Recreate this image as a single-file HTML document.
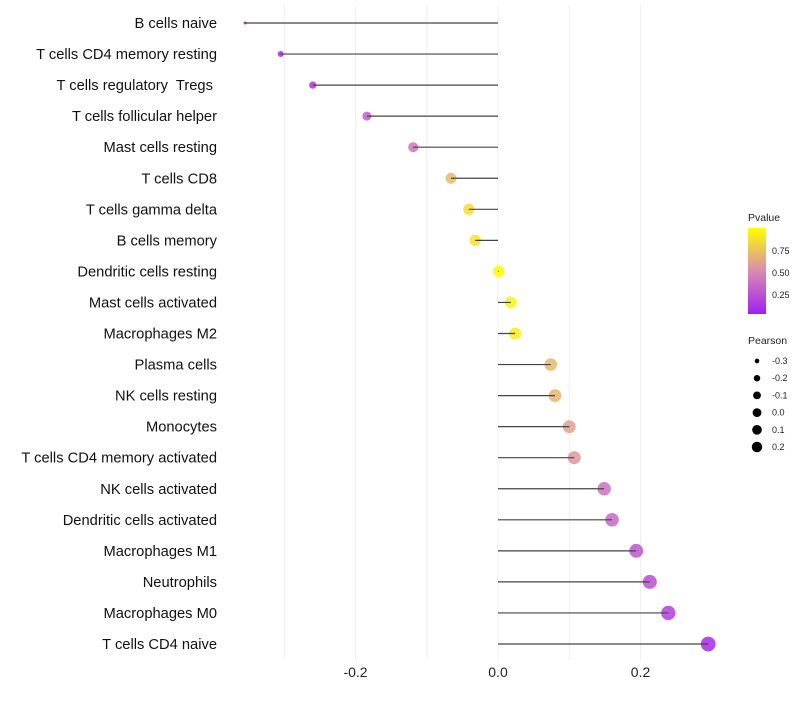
<!DOCTYPE html>
<html><head><meta charset="utf-8"><style>
body{margin:0;background:#fff;font-family:"Liberation Sans",sans-serif}
text{white-space:pre}
</style></head><body>
<svg id="chart" width="800" height="700" xmlns="http://www.w3.org/2000/svg">
<defs><linearGradient id="pg" x1="0" y1="1" x2="0" y2="0">
<stop offset="0" stop-color="#a020f0"/><stop offset="0.5" stop-color="#d98bb0"/><stop offset="1" stop-color="#ffff00"/>
</linearGradient></defs>
<g id="grid"></g>
<g id="marks"></g>
<g id="labels"></g>
<g font-size="9" fill="#222">
<text x="748" y="221" font-size="10.5">Pvalue</text>
<rect x="748" y="228" width="18" height="86" fill="url(#pg)"/>
<text x="772" y="254">0.75</text><text x="772" y="276">0.50</text><text x="772" y="298">0.25</text>
</g>
<g id="slegend" font-size="9" fill="#222">
<text x="748" y="344" font-size="10.5">Pearson</text>
</g>
</svg>
<script>
const categories=["B cells naive","T cells CD4 memory resting","T cells regulatory  Tregs ","T cells follicular helper","Mast cells resting","T cells CD8","T cells gamma delta","B cells memory","Dendritic cells resting","Mast cells activated","Macrophages M2","Plasma cells","NK cells resting","Monocytes","T cells CD4 memory activated","NK cells activated","Dendritic cells activated","Macrophages M1","Neutrophils","Macrophages M0","T cells CD4 naive"];
const pearson=[-0.355,-0.305,-0.26,-0.184,-0.119,-0.066,-0.041,-0.032,0.001,0.018,0.024,0.074,0.080,0.100,0.107,0.149,0.160,0.194,0.213,0.239,0.295];
const pvalue=[0.02,0.05,0.1,0.3,0.4,0.7,0.85,0.88,0.99,0.95,0.92,0.7,0.68,0.6,0.55,0.38,0.33,0.25,0.22,0.15,0.05];
const xTicks=[-0.2,0.0,0.2];
const xTickLabels=["-0.2","0.0","0.2"];
const minorTicks=[-0.3,-0.1,0.1];
const sizeLegend=[-0.3,-0.2,-0.1,0.0,0.1,0.2];
const sizeLegendLabels=["-0.3","-0.2","-0.1","0.0","0.1","0.2"];
const NS="http://www.w3.org/2000/svg";
const x=v=>498+v*712.5;
const y=i=>23+i*31.05;
const r=v=>Math.sqrt(2.25+74*Math.pow(Math.max(0,v+0.355),0.8));
function lerp(a,b,t){return Math.round(a+(b-a)*t);}
function col(p){const s=[[160,32,240],[217,139,176],[255,255,0]];let a,b,t;if(p<0.5){a=s[0];b=s[1];t=p/0.5}else{a=s[1];b=s[2];t=(p-0.5)/0.5}
return `rgb(${lerp(a[0],b[0],t)},${lerp(a[1],b[1],t)},${lerp(a[2],b[2],t)})`;}
function mk(tag,attrs,parent){const e=document.createElementNS(NS,tag);for(const k in attrs)e.setAttribute(k,attrs[k]);parent.appendChild(e);return e;}
const grid=document.getElementById('grid'),marks=document.getElementById('marks'),labels=document.getElementById('labels'),sl=document.getElementById('slegend');
xTicks.concat(minorTicks).forEach(v=>{const l=mk('line',{x1:x(v),x2:x(v),y1:5,y2:660,stroke:'#f0f0f0','stroke-width':1},grid);

});
xTicks.forEach((v,i)=>{const t=mk('text',{x:x(v),y:677,'text-anchor':'middle','font-size':14,fill:'#222'},labels);t.textContent=xTickLabels[i];

});
categories.forEach((c,i)=>{
const t=mk('text',{x:217,y:y(i)+5,'text-anchor':'end','font-size':14.7,fill:'#111'},labels);t.textContent=c;


const ci=mk('circle',{cx:x(pearson[i]),cy:y(i),r:r(pearson[i]),fill:col(pvalue[i]),'fill-opacity':0.85},marks);


const l=mk('line',{x1:x(0),x2:x(pearson[i]),y1:y(i),y2:y(i),stroke:'#444','stroke-width':1.2},marks);


});
sizeLegend.forEach((v,i)=>{const cy=361+i*17.2;
const c=mk('circle',{cx:757,cy:cy,r:r(v)*0.75,fill:'#000'},sl);


const t=mk('text',{x:772,y:cy+3},sl);t.textContent=sizeLegendLabels[i];

});
</script>
</body></html>
